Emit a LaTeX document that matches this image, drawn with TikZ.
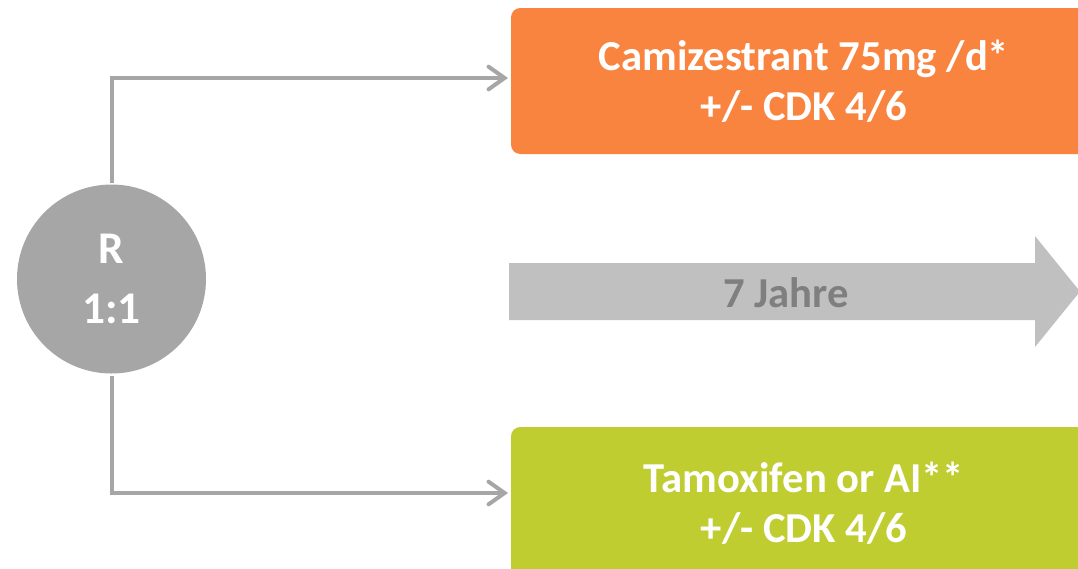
\documentclass[tikz,border=0pt]{standalone}
\usepackage{fontspec}
\setmainfont{Carlito}
\usetikzlibrary{arrows.meta,positioning}
\definecolor{armorange}{HTML}{F9843F}
\definecolor{armgreen}{HTML}{BFCD31}
\definecolor{randgray}{HTML}{A6A6A6}
\definecolor{timegray}{HTML}{C0C0C0}
\definecolor{textgray}{HTML}{7F7F7F}

\begin{document}
\begin{tikzpicture}[x=0.75pt,y=-0.75pt,->,>={Straight Barb[length=12pt,width=17pt,line cap=round]},line width=3pt,
    arm node/.style={rectangle,rounded corners=7pt,minimum width=439.5pt,anchor=north west,text=white,align=center,font=\bfseries\fontsize{32}{37.5}\selectfont},
    rand node/.style={circle,fill=randgray,minimum size=141.75pt,inner sep=0pt,text=white,align=center,font=\bfseries\fontsize{34}{45}\selectfont}]

    \useasboundingbox (0,0) rectangle (1078,568);
    \clip (0,0) rectangle (1078,568);

    % arms and randomisation
    \node[rand node] (1) at (111.5,279) {R\\1:1};
    \node[arm node,fill=armorange,minimum height=109.5pt] (2) at (509,6) {Camizestrant 75mg /d*\\+/- CDK 4/6};
    \node[arm node,fill=armgreen,minimum height=114pt] (3) at (509,425) {Tamoxifen or AI**\\+/- CDK 4/6};
    \coordinate (4) at (508,78);
    \coordinate (5) at (508,493);

    % time axis
    \fill[timegray] (509,263) -- (1035,263) -- (1035,236) -- (1080,291.5) -- (1035,347) -- (1035,320) -- (509,320) -- cycle;
    \node[text=textgray,font=\bfseries\fontsize{32}{37.5}\selectfont] (6) at (786,293) {7 Jahre};

    \draw[randgray] (1) |- (4);
    \draw[randgray] (1) |- (5);
\end{tikzpicture}
\end{document}
